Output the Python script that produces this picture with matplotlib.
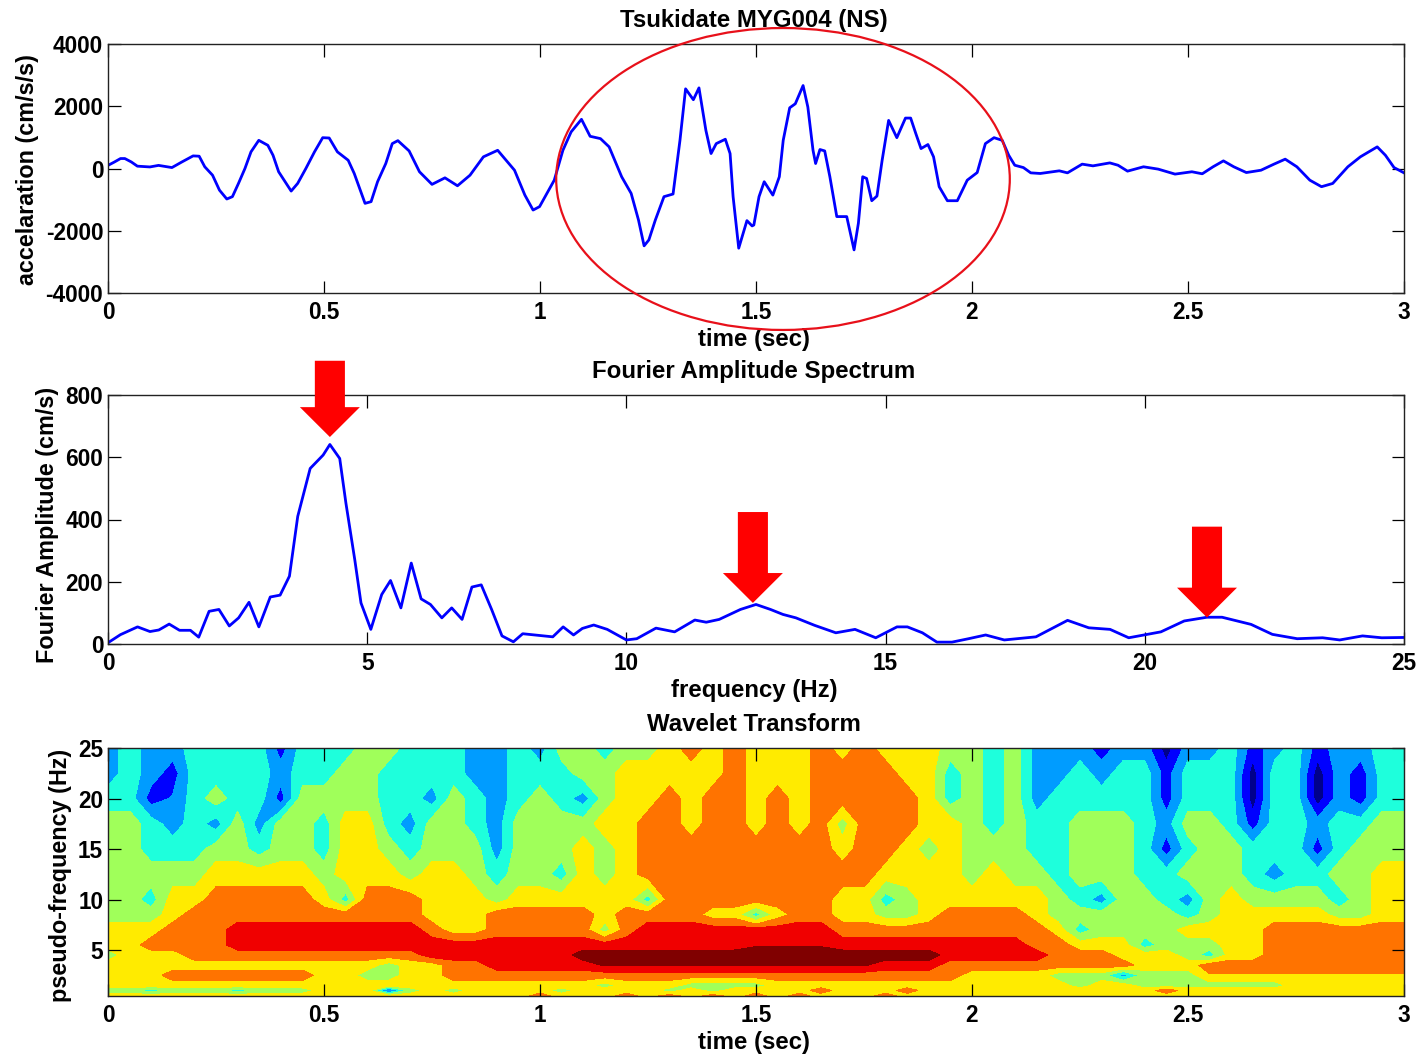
import matplotlib
matplotlib.use('Agg')
import matplotlib.pyplot as plt
from matplotlib.colors import ListedColormap
from matplotlib.patches import Ellipse, FancyArrow
import numpy as np

plt.rcParams['font.family'] = ['Liberation Sans', 'DejaVu Sans']
plt.rcParams['font.weight'] = 'bold'
plt.rcParams['axes.unicode_minus'] = False

# acceleration record
waveTime = [0.000, 0.015, 0.029, 0.039, 0.054, 0.068, 0.097, 0.117, 0.132, 0.148, 0.171, 0.197, 0.211, 0.224, 0.242,
            0.258, 0.275, 0.288, 0.302, 0.317, 0.331, 0.349, 0.370, 0.382, 0.395, 0.424, 0.439, 0.458, 0.478, 0.497,
            0.512, 0.531, 0.556, 0.570, 0.595, 0.609, 0.624, 0.643, 0.658, 0.671, 0.697, 0.721, 0.750, 0.780, 0.809,
            0.838, 0.869, 0.902, 0.941, 0.965, 0.984, 0.999, 1.033, 1.053, 1.072, 1.096, 1.116, 1.140, 1.160, 1.189,
            1.211, 1.228, 1.241, 1.252, 1.267, 1.287, 1.308, 1.324, 1.337, 1.355, 1.368, 1.384, 1.396, 1.408, 1.429,
            1.440, 1.447, 1.460, 1.479, 1.491, 1.495, 1.507, 1.519, 1.539, 1.554, 1.563, 1.578, 1.591, 1.609, 1.620,
            1.632, 1.638, 1.648, 1.659, 1.671, 1.687, 1.710, 1.727, 1.737, 1.747, 1.756, 1.768, 1.780, 1.792, 1.807,
            1.826, 1.846, 1.858, 1.870, 1.882, 1.898, 1.911, 1.924, 1.943, 1.966, 1.989, 2.012, 2.031, 2.051, 2.070,
            2.085, 2.099, 2.119, 2.136, 2.158, 2.202, 2.221, 2.255, 2.280, 2.319, 2.338, 2.360, 2.397, 2.431, 2.470,
            2.509, 2.533, 2.558, 2.582, 2.606, 2.635, 2.669, 2.699, 2.725, 2.752, 2.782, 2.809, 2.835, 2.870, 2.899,
            2.938, 2.957, 2.977, 3.000]
waveAcc = [100, 210, 320, 320, 210, 75, 50, 100, 65, 30, 210, 405, 395, 55, -215,
           -695, -980, -905, -480, 0, 535, 905, 745, 425, -105, -725, -480, 0, 535, 990,
           980, 535, 265, -160, -1120, -1065, -425, 160, 800, 895, 565, -105, -510, -300, -555,
           -215, 375, 585, -55, -855, -1335, -1225, -375, 585, 1175, 1580, 1035, 960, 695, -265,
           -800, -1655, -2485, -2295, -1655, -905, -820, 905, 2560, 2210, 2590, 1225, 480, 800, 940,
           480, -905, -2560, -1675, -1845, -1815, -905, -425, -855, -265, 905, 1950, 2080, 2665, 1975,
           585, 160, 610, 565, -265, -1545, -1545, -2615, -1760, -265, -320, -1035, -885, 265, 1545,
           990, 1620, 1620, 1120, 640, 770, 375, -585, -1035, -1035, -375, -130, 800, 990, 905,
           425, 105, 30, -140, -160, -75, -140, 140, 85, 180, 105, -85, 55, -20, -180,
           -105, -170, 55, 245, 55, -130, -55, 140, 300, 55, -375, -585, -480, 55, 375,
           695, 425, 30, -140]

# fourier spectrum
specFreq = [0, 0.24, 0.57, 0.81, 0.98, 1.18, 1.38, 1.59, 1.75, 1.95, 2.14, 2.34, 2.52, 2.72, 2.91, 3.13, 3.32, 3.50,
            3.66, 3.90, 4.15, 4.28, 4.47, 4.59, 4.76, 4.88, 5.07, 5.28, 5.45, 5.65, 5.85, 6.04, 6.22, 6.44, 6.63,
            6.83, 7.02, 7.20, 7.40, 7.60, 7.82, 8.00, 8.58, 8.78, 8.98, 9.15, 9.37, 9.63, 10.0, 10.2, 10.57, 10.93,
            11.32, 11.54, 11.79, 12.2, 12.5, 12.78, 13.02, 13.27, 13.63, 14.04, 14.41, 14.81, 15.22, 15.42, 15.71,
            15.99, 16.28, 16.6, 16.93, 17.29, 17.9, 18.51, 18.92, 19.33, 19.69, 20.31, 20.76, 21.2, 21.49, 22.05,
            22.46, 22.94, 23.43, 23.76, 24.2, 24.57, 25]
specAmp = [4, 30, 55, 40, 45, 64, 44, 44, 22, 105, 111, 58, 84, 134, 55, 151, 157, 218,
           410, 564, 607, 641, 596, 452, 271, 132, 47, 159, 204, 116, 260, 145, 127, 84, 116,
           79, 183, 190, 111, 26, 7, 33, 23, 55, 29, 50, 61, 47, 13, 17, 51, 39,
           77, 70, 79, 111, 127, 111, 95, 84, 60, 36, 47, 20, 55, 55, 36,
           6, 6, 17, 29, 13, 23, 76, 52, 47, 20, 39, 74, 86, 86, 63,
           31, 17, 20, 13, 26, 20, 21]

# wavelet bands, 0 is the darkest blue and 8 the darkest red
wtFreq = [25, 22.5, 20, 17.5, 15, 12.5, 10, 8.5, 7, 5.5, 4.5, 3.5, 2.5, 1.5, 1, 0.45]
wtTime = np.arange(61) * 0.05
wtBands = [
    [2,3,2,2,3, 3,3,3,1,3, 3,3,4,4,3, 3,3,2,2,3, 2,4,4,3,4, 4,5,6,5,6, 5,
     5,5,6,5,6, 5,5,5,4,4, 3,4,2,2,2, 1,2,2,0,2, 2,3,1,2,3, 1,2,2,3,3],
    [2,3,2,1,3, 3,3,3,2,3, 3,4,4,3,3, 3,3,2,2,3, 3,3,4,4,5, 5,5,5,5,6, 5,
     5,5,6,6,6, 6,5,5,3,4, 3,4,2,2,3, 2,3,3,1,3, 3,3,0,3,3, 0,2,1,3,3],
    [3,3,1,1.6,3, 4,3,3,1,4, 4,4,4,3,3, 2,4,3,2,3, 4,3,2,4,5, 5,6,5,6,6, 5,
     6,5,6,6,6, 6,6,5,3,4, 3,4,2,3,3, 3,3,3,1,3, 3,3,0,3,3, 0,2,1,3,3],
    [4,4,3,2,3, 2,4,2,4,4, 3,5,5,3,2, 4,4,3,2,4, 4,4,4,5,5, 6,6,5,6,6, 5,
     6,5,6,4,6, 6,6,5,5,4, 3,4,3,3,4, 4,4,3,2,4, 4,3,1,3,3, 2,3,3,4,4],
    [4,4,3,3,3, 4,4,3,4,4, 3,5,5,4,3, 4,4,4,2,4, 4,4,5,4,5, 6,6,6,6,6, 6,
     6,6,6,5,6, 6,5,4,5,4, 4,4,3,3,4, 4,4,3,1,3, 4,4,3,3,3, 1,3,4,4,4],
    [4,4,4,4,4, 5,5,5,5,5, 4,5,5,5,4, 5,5,4,3,4, 4,3,5,4,5, 6,6,6,6,6, 6,
     6,6,6,6,6, 5,5,5,5,4, 5,4,4,3,4, 4,4,3,3,4, 4,4,3,2,3, 3,4,4,5,5],
    [4,4,3,5,5, 6,6,6,6,6, 5,3,6,6,6, 5,5,5,4,5, 5,5,5,5,5, 3,6,6,6,6, 6,
     6,6,6,5,5, 3,4,5,5,5, 5,5,5,4,3, 2,4,4,3,2, 4,5,4,4,4, 4,3,4,5,5],
    [4,4,4,5,6, 6,6,6,6,6, 6,6,6,6,6, 5,5,5,6,6, 6,6,6,5,6, 6,6,6,5,5, 3,
     5,6,6,5,5, 4,4,5,6,6, 6,6,5,4,4, 4,4,4,4,3, 4,5,5,5,5, 5,4,4,5,5],
    [5,5,5,6,6, 6,7,7,7,7, 7,7,7,7,7, 6,5,5,6,6, 6,6,6,4,6, 7,7,7,7,7, 7,
     7,7,7,6,6, 6,6,6,6,6, 6,6,6,5,3, 4,4,4,4,5, 5,5,5,6,6, 6,6,6,6,6],
    [5,5,6,6,6, 6,7,7,7,7, 7,7,7,7,7, 7,7,7,7,7, 7,7,7,7,7, 7,7,7,7,7, 7.4,
     7.4,7.4,7.4,7,7, 7,7,7,7,7, 7,7,6,6,5, 5,5,3,4,4, 4,5,5,6,6, 6,6,6,6,6],
    [4,5,5,5,6, 6,6,6,6,6, 6,6,6,6,6, 7,7,7,7,7, 7,7,8,8,8, 8,8,8,8,8, 8,
     8,8,8,8,8, 8,8,8,7,7, 7,7,7,6,6, 6,5,5,5,4, 3,5,5,6,6, 6,6,6,6,6],
    [5,5,5,5,5, 5,5,5,5,5, 5,5,5,4,5, 5,6,6,7,7, 7,7,7,7.6,7.6, 7.6,7.6,7.6,7.6,7.6, 7.6,
     7.6,7.6,7.6,7.6,7.6, 7,7,7,6,6, 6,6,6,6,6, 6,6,5,5,5, 6,6,6,6,6, 6,6,6,6,6],
    [5,5,5,6,6, 6,6,6,6,6, 5,5,4,4,5, 5,6,6,6,6, 6,6,6,6,6, 6,6,6,6,6, 6,
     6,6,6,6,6, 6,6,6,6,5, 5,5,5,4,4, 4,2,4,4,4, 5.4,5.4,5.4,5.4,5.4, 5.4,5.4,5.4,5.4,5.4],
    [5,5,5,5,5, 5,5,5,5,5, 5,5,5,5,5, 5,5,5,5,5, 5,5,5,4,5, 5,5,4,4,4, 4,
     5,5,5,5,5, 5,5,5,5,5, 5,5,5,5,4, 5,5,4,4,4, 4,4,4,4,5, 5,5,5,5,5],
    [4,4,3,4,4, 4,3,4,4,4, 5,5,5,1,4, 5,4,5,5,5, 5,4,5,5,5, 5,4,5,4,5, 5,
     5,5,6,5,5, 5,6,5,5,5, 5,5,5,5,5, 5,5,5,6,5, 5,5,5,5,5, 5,5,5,5,5],
    [5,5,5,5,5, 5,5,5,5,5, 5,5,5,5,5, 5,5,5,5,5, 6,5,5,5,6, 5,6,5,6,5, 6,
     5,6,5,5,5, 6,5,5,5,5, 5,5,5,5,5, 5,5,5,5,5, 5,5,5,5,5, 5,5,5,5,5],
]
bandColors = ['#00008c', '#0000ff', '#009cff', '#1effdc', '#a0ff5a', '#ffeb00', '#ff7300', '#f00000', '#800000']

# marked peaks of the spectrum: frequency, arrow tip, arrow tail
peakFreq = [4.28, 12.44, 21.2]
peakTip = [665, 132, 85]
peakTail = [910, 424, 377]

figW, figH = 1417, 1056
labelSize = 17.3


def pixelAxes(fig, left, top, right, bottom):
    return fig.add_axes([left/figW, 1-bottom/figH, (right-left)/figW, (bottom-top)/figH])


def styleAxes(ax, title, xlabel, ylabel, ylabelY):
    ax.set_title(title, fontsize=labelSize, fontweight='bold', pad=12.2, x=0.4985)
    ax.set_xlabel(xlabel, fontsize=labelSize, fontweight='bold', labelpad=2.8, x=0.4985)
    ax.set_ylabel(ylabel, fontsize=16.8, fontweight='bold', labelpad=4.5, y=ylabelY)
    ax.tick_params(direction='in', length=9, width=0.9, top=True, right=True, labelsize=16.3)
    ax.tick_params(axis='x', pad=6)
    ax.tick_params(axis='y', pad=3.5)
    for s in ax.spines.values():
        s.set_linewidth(1.0)
        s.set_color('#222222')


fig = plt.figure(figsize=(figW/100, figH/100), dpi=100)

ax1 = pixelAxes(fig, 108, 44, 1404, 293)
ax1.plot(waveTime, waveAcc, color='#0000ff', lw=2.0, solid_joinstyle='round')
ax1.set_xlim(0, 3)
ax1.set_ylim(-4000, 4000)
ax1.set_xticks([0, 0.5, 1, 1.5, 2, 2.5, 3], ['0', '0.5', '1', '1.5', '2', '2.5', '3'])
ax1.set_yticks([-4000, -2000, 0, 2000, 4000])
ax1.add_patch(Ellipse((1.5625, -337), 1.05, 9700, fill=False, edgecolor='#e8101a', lw=1.6, clip_on=False, zorder=5))
styleAxes(ax1, 'Tsukidate MYG004 (NS)', 'time (sec)', 'accelaration (cm/s/s)', 0.494)

ax2 = pixelAxes(fig, 108, 395, 1404, 644)
ax2.plot(specFreq, specAmp, color='#0000ff', lw=2.0, solid_joinstyle='round')
ax2.set_xlim(0, 25)
ax2.set_ylim(0, 800)
ax2.set_xticks([0, 5, 10, 15, 20, 25])
ax2.set_yticks([0, 200, 400, 600, 800])
for f, tip, tail in zip(peakFreq, peakTip, peakTail):
    ax2.add_patch(FancyArrow(f, tail, 0, tip-tail, width=0.58, head_width=1.157, head_length=96,
                             length_includes_head=True, color='#ff0000', lw=0, clip_on=False, zorder=5))
styleAxes(ax2, 'Fourier Amplitude Spectrum', 'frequency (Hz)', 'Fourier Amplitude (cm/s)', 0.478)

ax3 = pixelAxes(fig, 108, 748, 1404, 996)
levels = np.arange(-0.5, 9, 1)
ax3.contourf(wtTime, wtFreq, np.array(wtBands, dtype=float), levels=levels, cmap=ListedColormap(bandColors))
ax3.set_xlim(0, 3)
ax3.set_ylim(0.45, 25)
ax3.set_xticks([0, 0.5, 1, 1.5, 2, 2.5, 3], ['0', '0.5', '1', '1.5', '2', '2.5', '3'])
ax3.set_yticks([5, 10, 15, 20, 25])
styleAxes(ax3, 'Wavelet Transform', 'time (sec)', 'pseudo-frequency (Hz)', 0.488)

fig.savefig('out.png', dpi=100)
